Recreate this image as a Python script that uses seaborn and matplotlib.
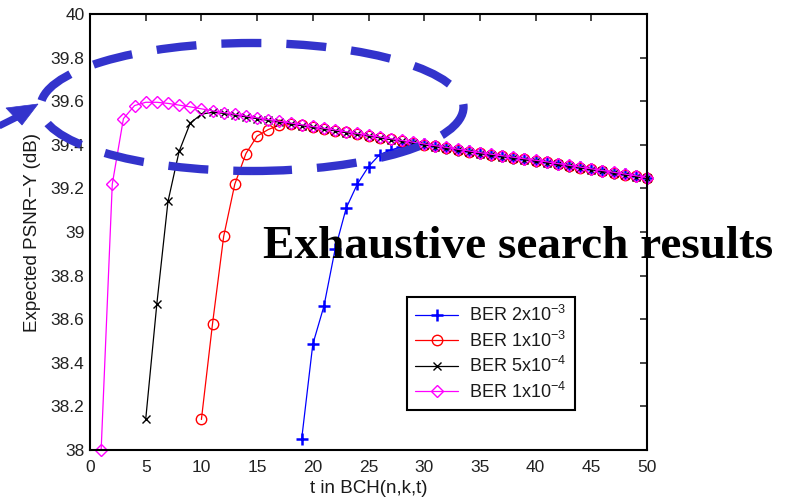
import matplotlib
matplotlib.use("Agg")
import matplotlib.pyplot as plt
import seaborn as sns
import pandas as pd
from matplotlib.patches import Ellipse, Polygon
from matplotlib.lines import Line2D

# ---------------- data ----------------
t_blue = list(range(19, 51))
psnr_blue = [38.05, 38.485, 38.66, 38.92, 39.11, 39.22, 39.30, 39.355, 39.376, 39.392, 39.402,
             39.402, 39.394, 39.386, 39.378, 39.370, 39.362, 39.355, 39.348, 39.341, 39.334,
             39.327, 39.320, 39.312, 39.304, 39.296, 39.288, 39.280, 39.272, 39.264, 39.256, 39.248]

t_red = list(range(10, 51))
psnr_red = [38.14, 38.58, 38.98, 39.22, 39.36, 39.44, 39.47, 39.49, 39.495,
            39.489, 39.481, 39.473, 39.465, 39.457, 39.449, 39.441, 39.433, 39.425, 39.417,
            39.409, 39.401, 39.393, 39.385, 39.377, 39.369, 39.361, 39.354, 39.347, 39.340,
            39.333, 39.326, 39.319, 39.311, 39.303, 39.295, 39.287, 39.279, 39.271, 39.263,
            39.255, 39.247]

t_black = list(range(5, 51))
psnr_black = [38.14, 38.67, 39.14, 39.37, 39.50, 39.54, 39.550,
              39.544, 39.536, 39.528, 39.520, 39.512, 39.504, 39.496, 39.488, 39.480, 39.472,
              39.464, 39.456, 39.448, 39.440, 39.432, 39.424, 39.416, 39.408, 39.400, 39.392,
              39.384, 39.376, 39.368, 39.360, 39.353, 39.346, 39.339, 39.332, 39.325, 39.318,
              39.310, 39.302, 39.294, 39.286, 39.278, 39.270, 39.262, 39.254, 39.246]

t_mag = list(range(1, 51))
psnr_mag = [38.00, 39.22, 39.52, 39.58, 39.595, 39.595, 39.59, 39.582, 39.574, 39.565,
            39.556, 39.548, 39.540, 39.532, 39.524, 39.516, 39.508, 39.500, 39.492, 39.484,
            39.476, 39.468, 39.460, 39.452, 39.444, 39.436, 39.428, 39.420, 39.412, 39.404,
            39.396, 39.388, 39.380, 39.372, 39.364, 39.357, 39.350, 39.343, 39.336, 39.329,
            39.322, 39.314, 39.306, 39.298, 39.290, 39.282, 39.274, 39.266, 39.258, 39.250]

labels = ["BER 2x10$^{-3}$", "BER 1x10$^{-3}$", "BER 5x10$^{-4}$", "BER 1x10$^{-4}$"]
x_ticks = [0, 5, 10, 15, 20, 25, 30, 35, 40, 45, 50]
y_ticks = [38, 38.2, 38.4, 38.6, 38.8, 39, 39.2, 39.4, 39.6, 39.8, 40]
y_tick_labels = ["38", "38.2", "38.4", "38.6", "38.8", "39", "39.2", "39.4", "39.6", "39.8", "40"]

# ---------------- style ----------------
sns.set_style("white")
plt.rcParams["font.family"] = ["Liberation Sans", "DejaVu Sans"]
plt.rcParams["mathtext.fontset"] = "custom"
plt.rcParams["mathtext.rm"] = "Liberation Sans"
plt.rcParams["mathtext.it"] = "Liberation Sans"
plt.rcParams["mathtext.default"] = "regular"
plt.rcParams["text.color"] = "#1a1a1a"
plt.rcParams["axes.labelcolor"] = "#1a1a1a"

W, H = 794, 499
fig = plt.figure(figsize=(W / 100, H / 100), dpi=100)
ax = fig.add_axes([90 / W, 1 - 450 / H, 557 / W, 436 / H])

series = [
    (t_blue, psnr_blue, "blue", "+", dict(markersize=9, markeredgewidth=1.8)),
    (t_red, psnr_red, "red", "o", dict(markersize=7.5, markerfacecolor="none", markeredgewidth=1.0)),
    (t_black, psnr_black, "black", "x", dict(markersize=5.5, markeredgewidth=1.0)),
    (t_mag, psnr_mag, "magenta", "D", dict(markersize=6.6, markerfacecolor="none", markeredgewidth=1.0)),
]
for (tx, py, col, mk, kw), lab in zip(series, labels):
    df = pd.DataFrame({"t": tx, "psnr": py})
    sns.lineplot(data=df, x="t", y="psnr", ax=ax, color=col, marker=mk, linewidth=0.9,
                 markeredgecolor=col, label=lab, clip_on=False, **kw)

ax.set_xlim(0, 50)
ax.set_ylim(38, 40)
ax.set_xticks(x_ticks)
ax.set_yticks(y_ticks)
ax.set_yticklabels(y_tick_labels)
ax.tick_params(direction="in", length=5, width=1.2, top=True, right=True,
               labelsize=12.5, labelcolor="#222222")
ax.tick_params(axis="x", pad=7)
ax.tick_params(axis="y", pad=4)
for s in ax.spines.values():
    s.set_color("black")
    s.set_linewidth(1.5)
ax.set_xlabel("t in BCH(n,k,t)", fontsize=13.5, labelpad=4)
ax.set_ylabel("Expected PSNR\u2212Y (dB)", fontsize=13.5)
ax.yaxis.set_label_coords(-0.088, 0.5)

leg = ax.legend(loc="upper left", bbox_to_anchor=(0.569, 0.351), fontsize=13,
                frameon=True, fancybox=False, framealpha=1, edgecolor="black",
                handlelength=2.4, handletextpad=0.6, borderpad=0.45, labelspacing=0.3,
                borderaxespad=0)
leg.get_frame().set_linewidth(1.5)

# ---------------- annotations ----------------
acol = "#3333cc"
ell = Ellipse((252 / W, 1 - 107 / H), 423 / W, 128 / H, transform=fig.transFigure,
              fill=False, edgecolor=acol, linewidth=6, linestyle=(0, (4.8, 3.0)), zorder=10)
fig.patches.append(ell)

def fp(x, y):
    return (x / W, 1 - y / H)

shaft = Line2D([fp(-5, 128)[0], fp(17, 117)[0]], [fp(-5, 128)[1], fp(17, 117)[1]],
               transform=fig.transFigure, color=acol, linewidth=5, solid_capstyle="butt",
               zorder=10)
fig.lines.append(shaft)
head = Polygon([fp(38, 104), fp(6, 108), fp(22, 125)], closed=True, transform=fig.transFigure,
               facecolor=acol, edgecolor=acol, linewidth=0.5, zorder=10)
fig.patches.append(head)

fig.text(263 / W, 1 - 247 / H, "Exhaustive search results", fontsize=34, color="black",
         fontweight="bold", family="Liberation Serif", ha="left", va="center", zorder=20)

fig.savefig("out.png", dpi=100)
